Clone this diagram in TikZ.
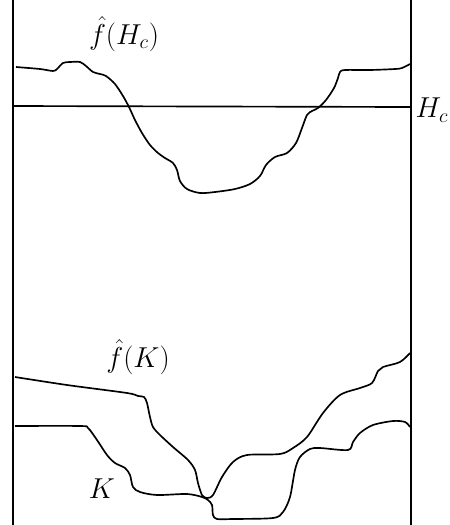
\documentclass[tikz,border=0pt]{standalone}
\usepackage{amsmath,amssymb}
\usepackage{tikz}

\begin{document}
\begin{tikzpicture}[x=0.6pt, y=-0.6pt, line width=1pt, every node/.style={font=\LARGE}]
    \useasboundingbox (0,0) rectangle (450,525);
    % walls
    \draw (13,0) -- (13,525);
    \draw (411,0) -- (411,525);
    % level H_c
    \draw (13,106) -- (411,107);
    \node (hc) at (432,110) {$H_c$};
    % image of H_c
    \draw plot[smooth, tension=0.5] coordinates {(16,67) (40,69) (53,71) (57,69) (63,63) (70,62) (80,62) (86,66) (93,72) (100,74) (106,76) (115,84) (123,96) (129,107) (135,120) (142,133) (150,145) (158,153) (165,158) (173,163) (177,170) (180,181) (187,189) (200,193) (215,192) (235,189) (250,184) (260,176) (266,165) (275,157) (287,153) (296,143) (302,128) (307,115) (312,111) (318,108) (326,100) (334,88) (338,78) (340,72) (345,70) (370,70) (395,69) (402,68) (410,64)};
    \node (fhc) at (124,34) {$\hat{f}(H_c)$};
    % image of K
    \draw plot[smooth, tension=0.5] coordinates {(15,377) (67,385) (127,393) (138,396) (144,397) (147,403) (150,417) (153,427) (160,435) (173,447) (188,460) (195,470) (198,483) (202,495) (207,498) (213,495) (222,477) (233,462) (247,455) (280,454) (293,448) (307,437) (323,413) (340,395) (360,388) (372,383) (378,371) (383,367) (400,362) (410,353)};
    \node (fk) at (138,357) {$\hat{f}(K)$};
    % K
    \draw plot[smooth, tension=0.5] coordinates {(15,426) (80,426) (88,428) (97,440) (107,455) (115,463) (125,468) (130,475) (133,487) (140,492) (157,495) (187,494) (202,497) (208,500) (212,505) (213,515) (217,519) (233,519) (273,518) (283,512) (290,497) (295,470) (300,457) (310,449) (320,448) (348,450) (353,442) (360,433) (373,425) (393,421) (405,422) (410,427)};
    \node (k) at (102,489) {$K$};
\end{tikzpicture}
\end{document}
